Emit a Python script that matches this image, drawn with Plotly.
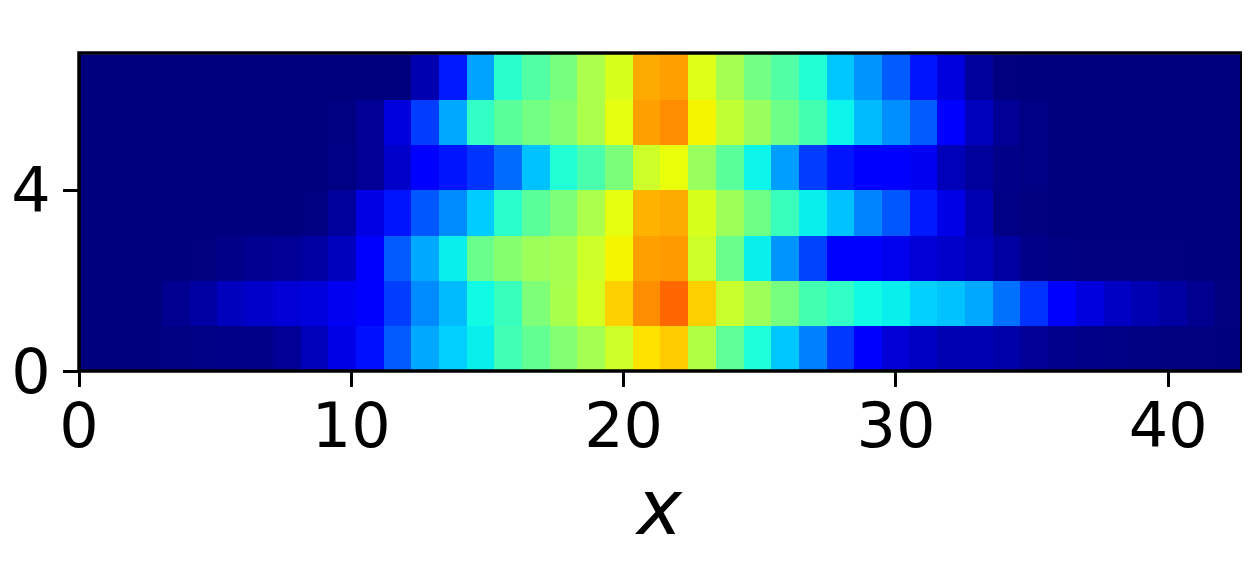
import plotly.graph_objects as go

# values, bottom row first (jet scale, 0..1)
row_0 = [0, 0, 0, .003, .005, .008, .01, .02, .05, .09, .14, .215, .29, .33, .36, .43, .47, .51, .55, .6, .67,
         .695, .565, .465, .385, .32, .25, .18, .115, .075, .06, .045, .045, .035, .02, .012, .008, .005, .003, .002, .001, 0]
row_1 = [0, 0, 0, .015, .03, .055, .065, .075, .08, .1, .12, .185, .26, .31, .37, .42, .505, .555, .61, .69, .76,
         .8, .69, .595, .54, .495, .435, .41, .37, .36, .33, .315, .29, .235, .175, .115, .08, .06, .045, .03, .015, .002]
row_2 = [0, 0, 0, 0, .002, .008, .015, .02, .03, .055, .115, .215, .29, .36, .48, .515, .54, .55, .6, .65, .74,
         .745, .6, .48, .36, .27, .19, .11, .115, .095, .075, .065, .05, .03, .01, .003, .002, .002, .001, .001, 0, 0]
row_3 = [0, 0, 0, 0, 0, 0, 0, 0, .003, .025, .085, .145, .21, .26, .325, .4, .46, .505, .56, .63, .72,
         .73, .615, .54, .485, .42, .36, .315, .255, .21, .15, .09, .045, .005, .002, 0, 0, 0, 0, 0, 0, 0]
row_4 = [0, 0, 0, 0, 0, 0, 0, 0, 0, .005, .02, .065, .12, .145, .175, .23, .315, .39, .44, .5, .6,
         .635, .535, .46, .365, .28, .185, .145, .12, .115, .1, .05, .025, .008, .004, 0, 0, 0, 0, 0, 0, 0]
row_5 = [0, 0, 0, 0, 0, 0, 0, 0, 0, .003, .02, .08, .185, .29, .41, .46, .49, .51, .56, .63, .74,
         .76, .65, .585, .535, .485, .435, .365, .31, .265, .215, .115, .055, .02, .005, 0, 0, 0, 0, 0, 0, 0]
row_6 = [0, 0, 0, 0, 0, 0, 0, 0, 0, 0, 0, 0, .04, .15, .285, .4, .45, .495, .56, .615, .73,
         .74, .62, .55, .49, .45, .39, .32, .27, .215, .145, .08, .025, .002, 0, 0, 0, 0, 0, 0, 0, 0]

x_ticks = [0, 10, 20, 30, 40]
y_ticks = [0, 4]

# same breakpoints as matplotlib's jet
JET = [
    [0, "rgb(0,0,127)"], [0.11, "rgb(0,0,255)"], [0.125, "rgb(0,0,255)"],
    [0.34, "rgb(0,219,255)"], [0.35, "rgb(0,229,246)"], [0.375, "rgb(20,255,226)"],
    [0.64, "rgb(238,255,8)"], [0.65, "rgb(246,245,0)"], [0.66, "rgb(255,236,0)"],
    [0.89, "rgb(255,18,0)"], [0.91, "rgb(232,0,0)"], [1, "rgb(127,0,0)"],
]

fig = go.Figure(go.Heatmap(
    z=[row_0, row_1, row_2, row_3, row_4, row_5, row_6],
    x0=0.508, dx=1.0165, y0=0.5, dy=1,
    colorscale=JET, zmin=0, zmax=1,
    showscale=False,
))
axis_common = dict(
    showline=False, automargin=False,
    ticks="outside", ticklen=15, tickwidth=3, tickcolor="black",
    showgrid=False, zeroline=False,
    tickfont=dict(family="DejaVu Sans", size=62, color="black"),
)
# the page body adds 8px on the left and top
fig.update_layout(
    width=1242, height=572,
    margin=dict(l=71, r=8, t=45, b=209),
    paper_bgcolor="white", plot_bgcolor="white",
    xaxis=dict(range=[0, 42.71], tickvals=x_ticks, ticklabelstandoff=-14, **axis_common),
    yaxis=dict(range=[0, 7.03], tickvals=y_ticks, **axis_common),
    # frame centred on the plot edges, axis lines would sit outside them
    shapes=[dict(type="rect", xref="paper", yref="paper", x0=0, x1=1, y0=0, y1=1,
                 line=dict(color="black", width=3.5), layer="above")],
    # axis title standoff does nothing without automargin, so place it by hand
    annotations=[dict(text="<i>x</i>", xref="paper", yref="paper", x=0.5, y=0, yanchor="top",
                      xshift=-2, yshift=-90, showarrow=False,
                      font=dict(family="DejaVu Sans", size=76, color="black"))],
)
fig.write_html("out.html")
